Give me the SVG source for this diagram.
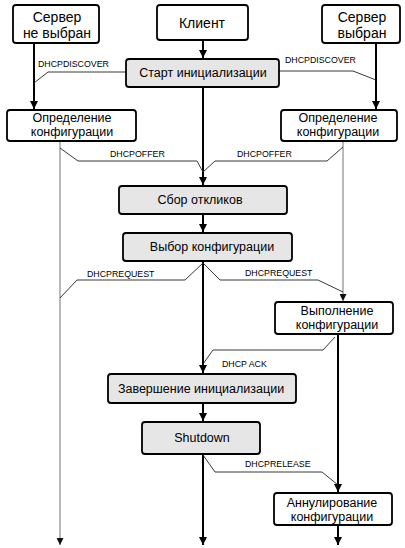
<svg xmlns="http://www.w3.org/2000/svg" width="405" height="548" viewBox="0 0 405 548">
<defs>
<style>
.box{fill:#fff;stroke:#000;stroke-width:1.8}
.gbox{fill:#e6e6e6;stroke:#000;stroke-width:1.8}
.t{font-family:"Liberation Sans",Arial,sans-serif;font-size:12.5px;text-anchor:middle;fill:#000}
.tb{font-family:"Liberation Sans",Arial,sans-serif;font-size:14px;text-anchor:middle;fill:#000}
.lbl{font-family:"Liberation Sans",Arial,sans-serif;font-size:8.8px;fill:#000}
.thick{stroke:#000;stroke-width:2;fill:none}
.thin{stroke:#8a8a8a;stroke-width:1.2;fill:none}
.call{stroke:#222;stroke-width:0.9;fill:none}
</style>
<marker id="ah" viewBox="0 0 10 10" refX="10" refY="5" markerUnits="userSpaceOnUse" markerWidth="8" markerHeight="9" orient="auto"><path d="M0,0 L10,5 L0,10 Z" fill="#000"/></marker>
<marker id="ahs" viewBox="0 0 10 10" refX="10" refY="5" markerUnits="userSpaceOnUse" markerWidth="8" markerHeight="7" orient="auto"><path d="M0,0 L10,5 L0,10 Z" fill="#111"/></marker>
</defs>
<g id="connectors">
<line class="thick" x1="34" y1="43" x2="34" y2="109" marker-end="url(#ah)"/>
<line class="thick" x1="203" y1="40" x2="203" y2="58" marker-end="url(#ah)"/>
<line class="thick" x1="376" y1="43" x2="376" y2="109" marker-end="url(#ah)"/>
<line class="thick" x1="203" y1="87" x2="203" y2="185" marker-end="url(#ah)"/>
<line class="thick" x1="203" y1="214" x2="203" y2="232" marker-end="url(#ah)"/>
<line class="thick" x1="203" y1="261" x2="203" y2="373" marker-end="url(#ah)"/>
<line class="thick" x1="203" y1="403" x2="203" y2="421" marker-end="url(#ah)"/>
<line class="thick" x1="203" y1="454" x2="203" y2="545" marker-end="url(#ah)"/>
<line class="thick" x1="338" y1="334" x2="338" y2="492" marker-end="url(#ah)"/>
<line class="thick" x1="338" y1="525" x2="338" y2="545" marker-end="url(#ah)"/>
<line class="thin" x1="60" y1="141" x2="60" y2="545" marker-end="url(#ahs)"/>
<line class="thin" x1="343" y1="141" x2="343" y2="301" marker-end="url(#ahs)"/>
<polyline class="call" points="126,72 48,72 34,83"/>
<polyline class="call" points="279,71 353,71 376,80"/>
<polyline class="call" points="60,148 78,161 197,161 203,172"/>
<polyline class="call" points="343,147 327,161 215,161 203,172"/>
<polyline class="call" points="203,263 185,280 77,280 60,298"/>
<polyline class="call" points="203,263 220,280 318,280 343,292"/>
<polyline class="call" points="335,337 323,350 213,350 203,364"/>
<polyline class="call" points="203,455 215,472 322,472 338,485"/>
<text class="lbl" x="38" y="67">DHCPDISCOVER</text>
<text class="lbl" x="285" y="63">DHCPDISCOVER</text>
<text class="lbl" x="110" y="157">DHCPOFFER</text>
<text class="lbl" x="237" y="157">DHCPOFFER</text>
<text class="lbl" x="87" y="277">DHCPREQUEST</text>
<text class="lbl" x="245" y="276">DHCPREQUEST</text>
<text class="lbl" x="222" y="367">DHCP ACK</text>
<text class="lbl" x="245" y="467">DHCPRELEASE</text>
</g>
<g id="server-not-selected"><rect class="box" x="13" y="5" width="86" height="38" rx="3"/><text class="tb" x="57" y="22">Сервер</text><text class="tb" x="57" y="38">не выбран</text></g>
<g id="client"><rect class="box" x="157" y="5" width="91" height="35" rx="3"/><text class="tb" x="202" y="28">Клиент</text></g>
<g id="server-selected"><rect class="box" x="322" y="5" width="78" height="38" rx="3"/><text class="tb" x="362" y="22">Сервер</text><text class="tb" x="362" y="38">выбран</text></g>
<g id="start-init"><rect class="gbox" x="126" y="59" width="153" height="28" rx="3"/><text class="t" x="203" y="77">Старт инициализации</text></g>
<g id="config-def-left"><rect class="box" x="7" y="110" width="129" height="31" rx="3"/><text class="t" x="72" y="122">Определение</text><text class="t" x="72" y="136">конфигурации</text></g>
<g id="config-def-right"><rect class="box" x="281" y="110" width="116" height="31" rx="3"/><text class="t" x="338" y="122">Определение</text><text class="t" x="338" y="136">конфигурации</text></g>
<g id="collect"><rect class="gbox" x="119" y="186" width="168" height="28" rx="3"/><text class="t" x="200" y="204">Сбор откликов</text></g>
<g id="choose-config"><rect class="gbox" x="123" y="233" width="169" height="28" rx="3"/><text class="t" x="212" y="251">Выбор конфигурации</text></g>
<g id="apply-config"><rect class="box" x="275" y="302" width="118" height="32" rx="3"/><text class="t" x="337" y="315">Выполнение</text><text class="t" x="337" y="329">конфигурации</text></g>
<g id="finish-init"><rect class="gbox" x="108" y="374" width="188" height="29" rx="3"/><text class="t" x="201" y="393">Завершение инициализации</text></g>
<g id="shutdown"><rect class="gbox" x="142" y="422" width="118" height="32" rx="3"/><text class="t" x="202" y="442">Shutdown</text></g>
<g id="cancel-config"><rect class="box" x="274" y="493" width="118" height="32" rx="3"/><text class="t" x="332" y="507">Аннулирование</text><text class="t" x="332" y="521">конфигурации</text></g>
</svg>
